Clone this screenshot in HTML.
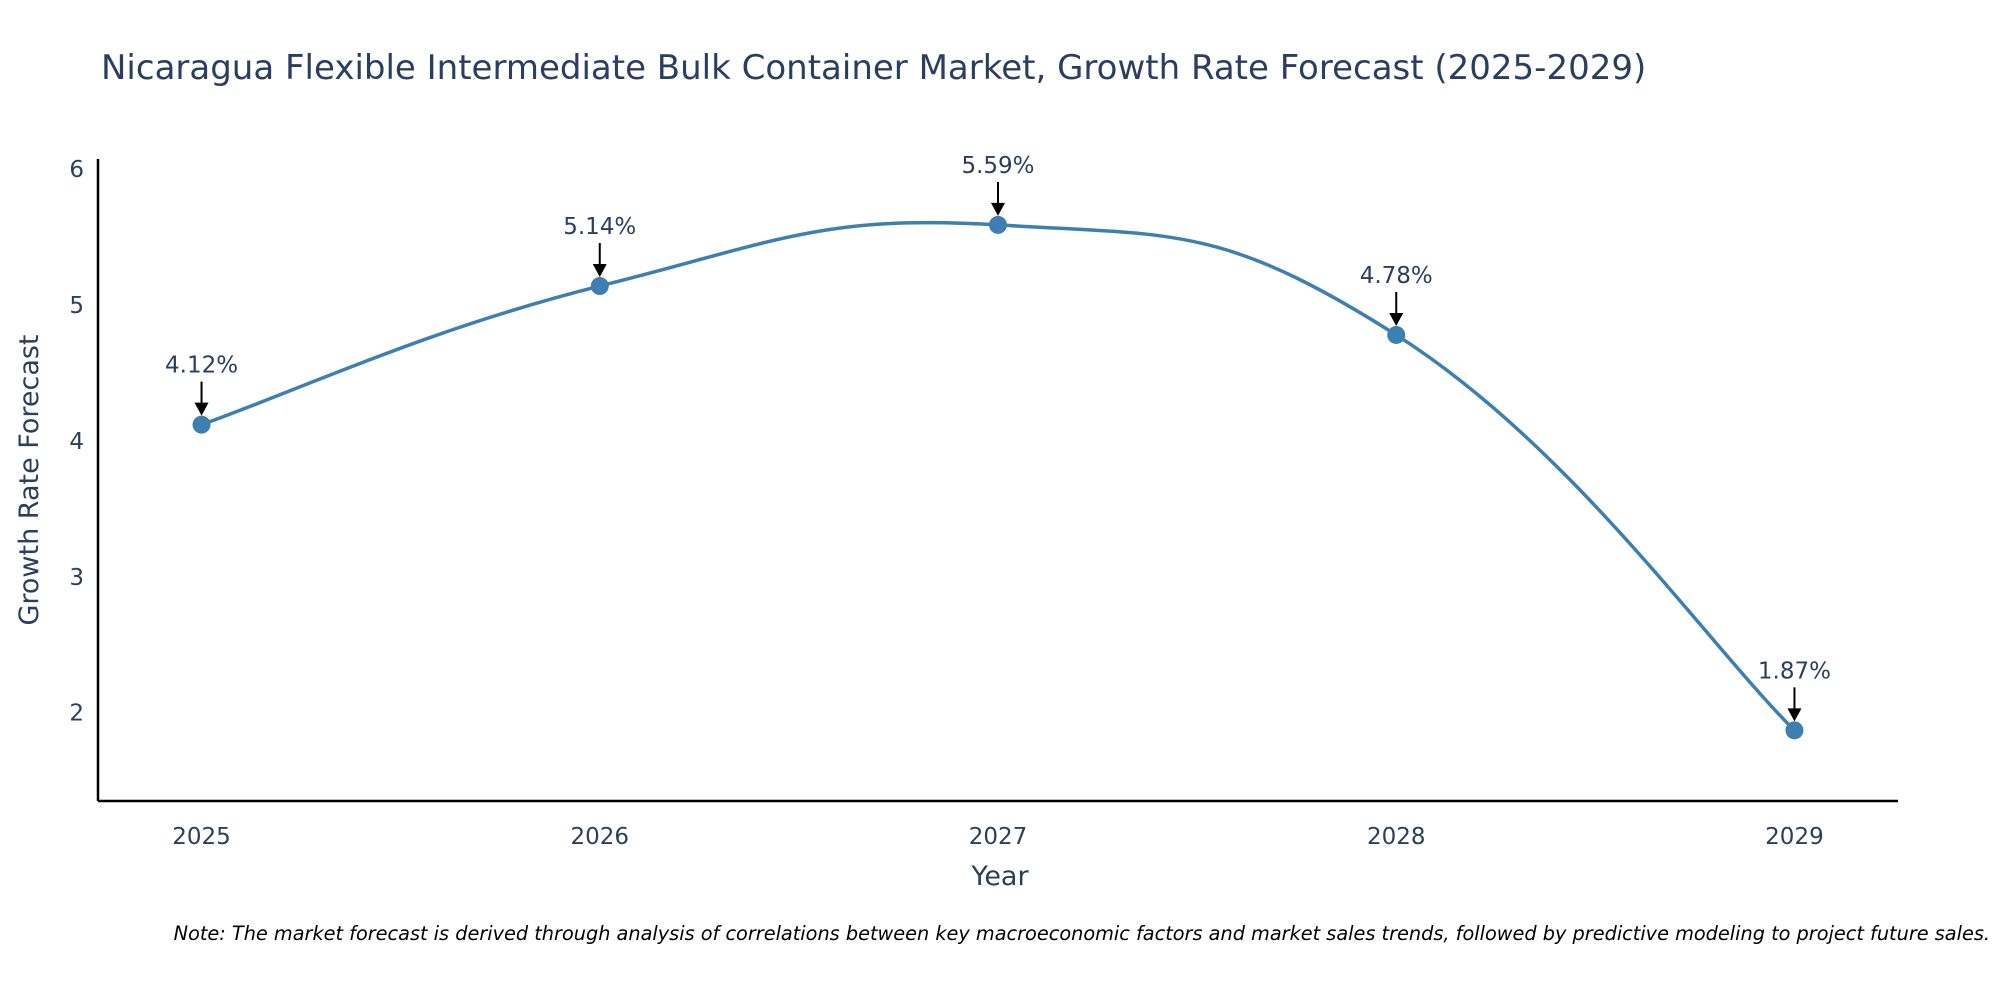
<!DOCTYPE html>
<html><head><meta charset="utf-8"><style>
html,body{margin:0;padding:0;background:#fff;}
svg{display:block;font-family:"DejaVu Sans","Liberation Sans",sans-serif;}
</style></head><body>
<svg id="chart" width="2000" height="1000">
<text x="101" y="79" font-size="34" fill="#2a3f5f">Nicaragua Flexible Intermediate Bulk Container Market, Growth Rate Forecast (2025-2029)</text>
<text transform="translate(38,480) rotate(-90)" text-anchor="middle" font-size="27" fill="#2a3f5f">Growth Rate Forecast</text>
<text x="1000" y="885" text-anchor="middle" font-size="27" fill="#2a3f5f">Year</text>
<text x="1990" y="940" text-anchor="end" font-size="19.3" font-style="italic" fill="#000">Note: The market forecast is derived through analysis of correlations between key macroeconomic factors and market sales trends, followed by predictive modeling to project future sales.</text>
<g id="plot"></g>
</svg>
<script>
const years = [2025, 2026, 2027, 2028, 2029];
const values = [4.12, 5.14, 5.59, 4.78, 1.87];
const labels = ["4.12%", "5.14%", "5.59%", "4.78%", "1.87%"];
const yTicks = [2, 3, 4, 5, 6];

const L = 98, R = 1898, T = 159, B = 801;
const xMin = 2024.74, xMax = 2029.26, yMin = 1.35, yMax = 6.075;
const xs = v => L + (v - xMin) / (xMax - xMin) * (R - L);
const ys = v => B - (v - yMin) / (yMax - yMin) * (B - T);
const NS = "http://www.w3.org/2000/svg";
const g = document.getElementById('plot');
function mk(tag, attrs, parent) {
  const e = document.createElementNS(NS, tag);
  for (const k in attrs) e.setAttribute(k, attrs[k]);
  (parent || g).appendChild(e);
  return e;
}
let ax = mk('line', {x1: L, y1: T, x2: L, y2: B, stroke: '#000', 'stroke-width': 2.5});


ax = mk('line', {x1: L, y1: B, x2: R, y2: B, stroke: '#000', 'stroke-width': 2.5});


yTicks.forEach(t => {
  const e = mk('text', {x: L - 14, y: ys(t) + 8, 'text-anchor': 'end', 'font-size': 23, fill: '#2a3f5f'});
  e.textContent = t;
  
  
});
years.forEach(y => {
  const e = mk('text', {x: xs(y), y: B + 43, 'text-anchor': 'middle', 'font-size': 23, fill: '#2a3f5f'});
  e.textContent = y;
  
  
});
const pts = years.map((y, i) => [xs(y), ys(values[i])]);
let d = `M${pts[0][0]},${pts[0][1]}`;
const s = 0.22;
for (let i = 0; i < pts.length - 1; i++) {
  const p0 = pts[Math.max(0, i - 1)], p1 = pts[i], p2 = pts[i + 1], p3 = pts[Math.min(pts.length - 1, i + 2)];
  const c1 = [p1[0] + (p2[0] - p0[0]) * s, p1[1] + (p2[1] - p0[1]) * s];
  const c2 = [p2[0] - (p3[0] - p1[0]) * s, p2[1] - (p3[1] - p1[1]) * s];
  d += ` C${c1[0]},${c1[1]} ${c2[0]},${c2[1]} ${p2[0]},${p2[1]}`;
}
const line = mk('path', {d: d, fill: 'none', stroke: '#3d7fb0', 'stroke-width': 3.5});


pts.forEach((p, i) => {
  const c = mk('circle', {cx: p[0], cy: p[1], r: 9, fill: '#3d7fb0'});
  
  
  const a = mk('line', {x1: p[0], y1: p[1] - 43, x2: p[0], y2: p[1] - 20, stroke: '#000', 'stroke-width': 2});
  
  
  const h = mk('polygon', {points: `${p[0]-7},${p[1]-22} ${p[0]+7},${p[1]-22} ${p[0]},${p[1]-9}`, fill: '#000'});
  
  
  const t = mk('text', {x: p[0], y: p[1] - 52, 'text-anchor': 'middle', 'font-size': 23, fill: '#2a3f5f'});
  t.textContent = labels[i];
  
  
});
</script>
</body></html>
